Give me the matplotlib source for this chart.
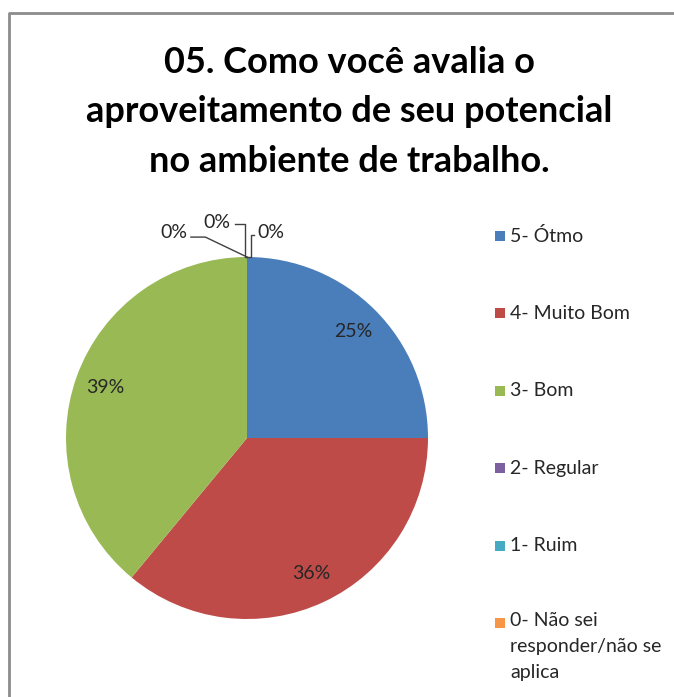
import matplotlib
matplotlib.use("Agg")
import matplotlib.pyplot as plt
import numpy as np

W, H = 674, 697
categories = ["5- Ótmo", "4- Muito Bom", "3- Bom", "2- Regular", "1- Ruim",
              "0- Não sei\nresponder/não se\naplica"]
values = [25, 36, 39, 0, 0, 0]
colors = ["#4A7EBB", "#BE4B48", "#98B954", "#7D60A0", "#46AAC5", "#F79646"]
title = "05. Como você avalia o\naproveitamento de seu potencial\nno ambiente de trabalho."

FONT = "Lato"
plt.rcParams['font.family'] = [FONT, 'DejaVu Sans']

fig = plt.figure(figsize=(W / 100, H / 100), dpi=100)

# overlay axes in pixel coordinates (y downward)
ov = fig.add_axes([0, 0, 1, 1])
ov.set_xlim(0, W)
ov.set_ylim(H, 0)
ov.axis("off")

# frame
ov.plot([9, 9, W + 5], [H + 5, 13, 13], color="#8C8C8C", lw=2.0, solid_capstyle="butt")

# title
ov.text(349, 112, title, ha="center", va="center", fontsize=26, fontweight="bold",
        linespacing=1.6, color="black")

# pie
cx, cy, R = 247, 438, 181
pax = fig.add_axes([(cx - R) / W, (H - cy - R) / H, 2 * R / W, 2 * R / H])
wedges, texts, autotexts = pax.pie(
    values, colors=colors, startangle=90, counterclock=False, radius=1,
    autopct=lambda p: f"{p:.0f}%" if p > 0 else "", pctdistance=0.83,
    wedgeprops=dict(linewidth=0),
    textprops=dict(fontsize=14, color="#262626"))
pax.set_xlim(-1, 1)
pax.set_ylim(-1, 1)
pax.set_aspect("equal")
pax.axis("off")

# zero-value labels with leader lines
zero_idx = [i for i, v in enumerate(values) if v == 0]
label_pos = [(-0.406, 1.133), (-0.169, 1.193), (0.133, 1.133)]
lead_pts = [
    [(-0.31, 1.11), (-0.23, 1.11)],
    [(-0.065, 1.18), (-0.01, 1.18)],
    [(0.04, 1.12), (0.02, 1.12)],
]
for k, i in enumerate(zero_idx):
    w = wedges[i]
    ang = np.deg2rad(w.theta1)
    ax_pt = (np.cos(ang) * w.r, np.sin(ang) * w.r)
    lx, ly = label_pos[k]
    pax.text(lx, ly, f"{values[i]}%", ha="center", va="center", fontsize=14,
             color="#262626", clip_on=False)
    pts = lead_pts[k]
    if k == 0:
        xs = [pts[0][0], pts[1][0], ax_pt[0]]
        ys = [pts[0][1], pts[1][1], ax_pt[1]]
    else:
        xs = [pts[0][0], pts[1][0], pts[1][0], ax_pt[0]]
        ys = [pts[0][1], pts[1][1], ax_pt[1], ax_pt[1]]
    pax.plot(xs, ys, color="#404040", lw=1.0, clip_on=False)

# legend (manual)
leg_y0, leg_dy = 236, 77.4
for k, (lab, col) in enumerate(zip(categories, colors)):
    y = leg_y0 + k * leg_dy
    ov.add_patch(plt.Rectangle((495, y - 5), 10, 10, color=col, lw=0))
    if "\n" in lab:
        ov.text(510, y - 11, lab, ha="left", va="top", fontsize=14,
                color="#262626", linespacing=1.65)
    else:
        ov.text(510, y, lab, ha="left", va="center", fontsize=14,
                color="#262626")

fig.savefig("out.png", dpi=100)
